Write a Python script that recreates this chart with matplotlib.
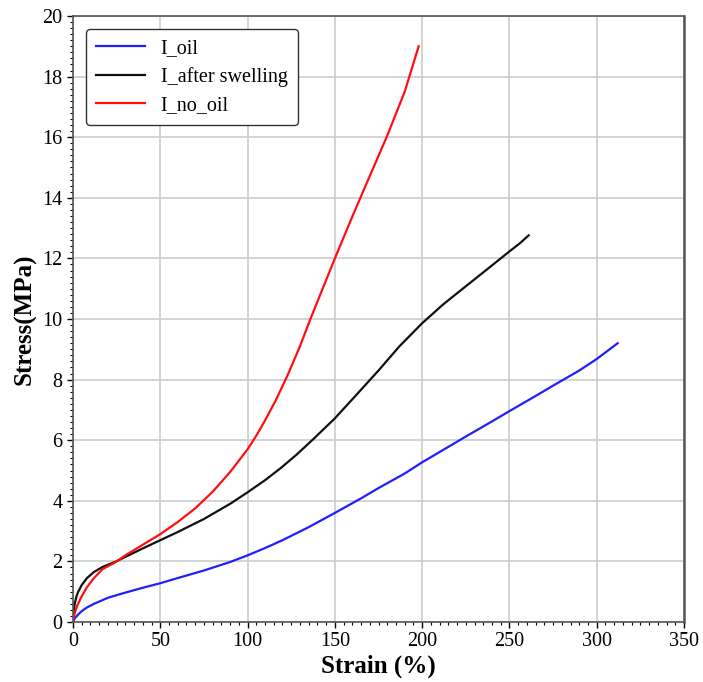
import matplotlib
matplotlib.use("Agg")
import matplotlib.pyplot as plt
from matplotlib.ticker import MultipleLocator

plt.rcParams["font.family"] = ["Liberation Serif", "DejaVu Serif"]

# values
oil_strain = [0, 1, 3, 5, 8, 12, 16, 20, 30, 40, 50, 60, 75, 90, 100, 110, 120,
              135, 150, 165, 175, 190, 200, 215, 225, 240, 250, 265, 275, 290, 300, 312]
oil_stress = [0.0, 0.12, 0.25, 0.36, 0.48, 0.6, 0.7, 0.8, 0.97, 1.13, 1.28, 1.45, 1.7,
              1.98, 2.2, 2.44, 2.7, 3.13, 3.6, 4.08, 4.42, 4.9, 5.27, 5.78, 6.12,
              6.62, 6.96, 7.46, 7.8, 8.3, 8.68, 9.2]

swell_strain = [0, 0.5, 1, 2, 3, 5, 8, 12, 17, 24, 30, 40, 50, 60, 75, 90, 100,
                110, 119, 128, 137, 150, 160, 175, 187, 200, 212, 225, 237, 245,
                250, 256, 261]
swell_stress = [0.0, 0.4, 0.6, 0.85, 1.0, 1.22, 1.45, 1.65, 1.82, 1.98, 2.15, 2.43,
                2.7, 2.97, 3.4, 3.9, 4.28, 4.68, 5.08, 5.52, 6.0, 6.72, 7.35, 8.3,
                9.1, 9.86, 10.48, 11.08, 11.63, 12.0, 12.23, 12.5, 12.76]

nooil_strain = [0, 1, 2.5, 5, 8, 12, 17, 24, 30, 40, 50, 60, 70, 80, 90, 100, 105,
                110, 116, 123, 130, 136, 143, 150, 160, 170, 180, 190, 198]
nooil_stress = [0.0, 0.3, 0.55, 0.85, 1.15, 1.45, 1.75, 1.96, 2.2, 2.55, 2.9, 3.3,
                3.75, 4.3, 4.95, 5.7, 6.15, 6.65, 7.3, 8.15, 9.1, 10.0, 11.0, 12.0,
                13.38, 14.72, 16.05, 17.5, 19.0]

fig = plt.figure(figsize=(7.03, 6.82), dpi=100)
ax = fig.add_axes([73 / 703, 1 - 622 / 682, 611 / 703, 606 / 682])

ax.plot(oil_strain, oil_stress, color="#1f1fff", lw=1.6, label="I_oil")
ax.plot(swell_strain, swell_stress, color="#111111", lw=1.6, label="I_after swelling")
ax.plot(nooil_strain, nooil_stress, color="#ff1010", lw=1.6, label="I_no_oil")

ax.set_xlim(0, 350)
ax.set_ylim(0, 20)
ax.xaxis.set_major_locator(MultipleLocator(50))
ax.xaxis.set_minor_locator(MultipleLocator(5))
ax.yaxis.set_major_locator(MultipleLocator(2))
ax.yaxis.set_minor_locator(MultipleLocator(0.2))
ax.tick_params(which="major", direction="out", length=4, width=1, labelsize=14.5)
ax.tick_params(which="minor", direction="out", length=2, width=0.8)
ax.grid(True, which="major", color="#cccccc", lw=1.2)
ax.set_axisbelow(True)
for side in ("top", "right", "left", "bottom"):
    ax.spines[side].set_color("#555555")
    ax.spines[side].set_linewidth(1.2)
ax.spines["right"].set_linewidth(1.8)

ax.set_xlabel("Strain (%)", fontsize=18, fontweight="bold", labelpad=2)
ax.set_ylabel("Stress(MPa)", fontsize=18, fontweight="bold", labelpad=4)

leg = ax.legend(loc="upper left", fontsize=14.5, handlelength=2.4, frameon=True,
                fancybox=True, borderpad=0.5, labelspacing=0.45,
                bbox_to_anchor=(0.005, 0.995))
leg.get_frame().set_edgecolor("#333333")
leg.get_frame().set_linewidth(1.0)
leg.get_frame().set_alpha(1)

fig.savefig("out.png", dpi=100)
